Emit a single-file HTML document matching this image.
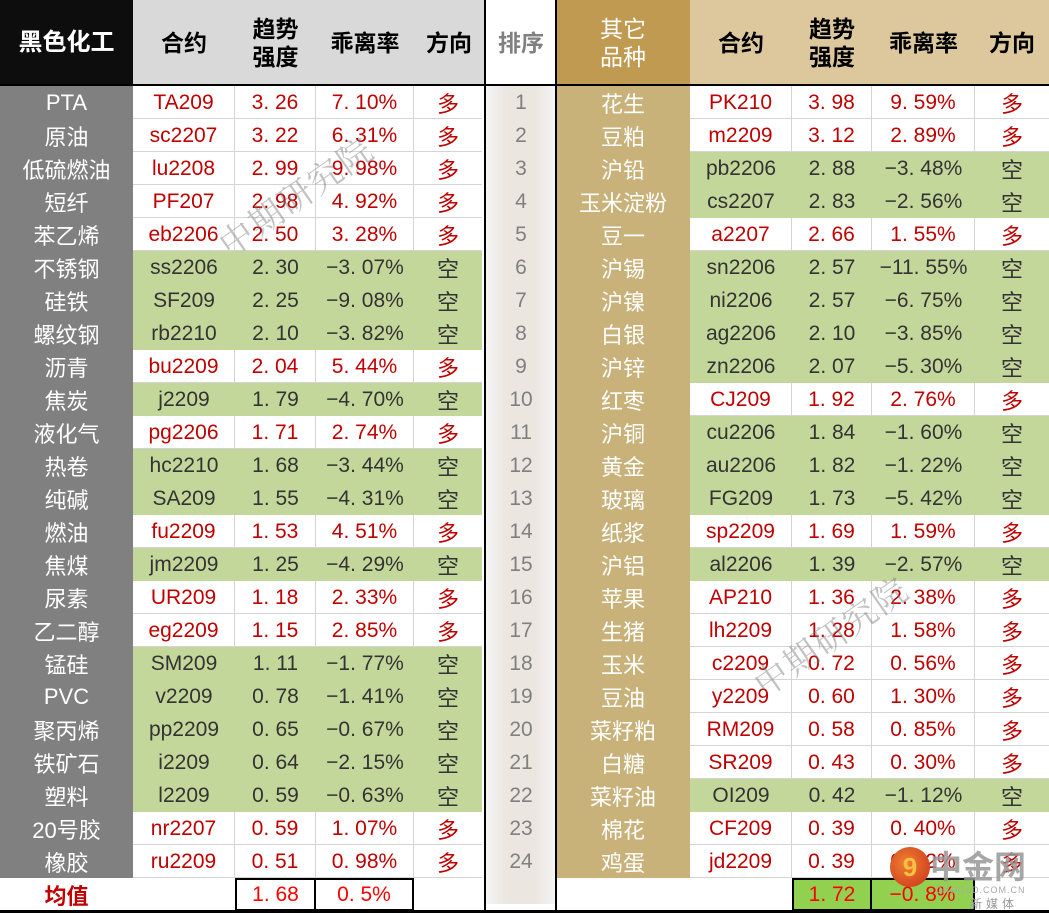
<!DOCTYPE html>
<html><head><meta charset="utf-8">
<style>
*{margin:0;padding:0;box-sizing:border-box}
body{width:1049px;height:913px;background:#fff;position:relative;overflow:hidden;font-family:"Liberation Sans","Noto Sans CJK SC",sans-serif}
.c{position:absolute;display:flex;align-items:center;justify-content:center;white-space:nowrap}
.m{font-family:"Liberation Sans","Noto Sans CJK SC",sans-serif;font-size:21px;font-weight:normal}
.z{font-size:22px}
.h{font-size:23px;font-weight:bold;line-height:28px;text-align:center;color:#000}
.line{position:absolute;background:#000}
.wm{position:absolute;color:rgba(120,120,120,0.45);font-size:34px;font-family:"Noto Serif CJK SC",serif;transform:rotate(-35deg);letter-spacing:2px}
</style></head><body>
<div id="root"></div>
<script>
const leftNames=["PTA","原油","低硫燃油","短纤","苯乙烯","不锈钢","硅铁","螺纹钢","沥青","焦炭","液化气","热卷","纯碱","燃油","焦煤","尿素","乙二醇","锰硅","PVC","聚丙烯","铁矿石","塑料","20号胶","橡胶"];
const leftCodes=["TA209","sc2207","lu2208","PF207","eb2206","ss2206","SF209","rb2210","bu2209","j2209","pg2206","hc2210","SA209","fu2209","jm2209","UR209","eg2209","SM209","v2209","pp2209","i2209","l2209","nr2207","ru2209"];
const leftStrength=["3.26","3.22","2.99","2.98","2.50","2.30","2.25","2.10","2.04","1.79","1.71","1.68","1.55","1.53","1.25","1.18","1.15","1.11","0.78","0.65","0.64","0.59","0.59","0.51"];
const leftDev=["7.10%","6.31%","9.98%","4.92%","3.28%","-3.07%","-9.08%","-3.82%","5.44%","-4.70%","2.74%","-3.44%","-4.31%","4.51%","-4.29%","2.33%","2.85%","-1.77%","-1.41%","-0.67%","-2.15%","-0.63%","1.07%","0.98%"];
const rightNames=["花生","豆粕","沪铅","玉米淀粉","豆一","沪锡","沪镍","白银","沪锌","红枣","沪铜","黄金","玻璃","纸浆","沪铝","苹果","生猪","玉米","豆油","菜籽粕","白糖","菜籽油","棉花","鸡蛋"];
const rightCodes=["PK210","m2209","pb2206","cs2207","a2207","sn2206","ni2206","ag2206","zn2206","CJ209","cu2206","au2206","FG209","sp2209","al2206","AP210","lh2209","c2209","y2209","RM209","SR209","OI209","CF209","jd2209"];
const rightStrength=["3.98","3.12","2.88","2.83","2.66","2.57","2.57","2.10","2.07","1.92","1.84","1.82","1.73","1.69","1.39","1.36","1.28","0.72","0.60","0.58","0.43","0.42","0.39","0.39"];
const rightDev=["9.59%","2.89%","-3.48%","-2.56%","1.55%","-11.55%","-6.75%","-3.85%","-5.30%","2.76%","-1.60%","-1.22%","-5.42%","1.59%","-2.57%","2.38%","1.58%","0.56%","1.30%","0.85%","0.30%","-1.12%","0.40%","0.12%"];
const avgLeft=["1.68","0.5%"];
const avgRight=["1.72","-0.8%"];

const root=document.getElementById('root');
const TOP=86,RH=33;
function box(x,y,w,h,txt,cls,style,name){
  const d=document.createElement('div');
  d.className='c '+(cls||'');
  d.style.cssText=`left:${x}px;top:${y}px;width:${w}px;height:${h}px;`+(style||'');
  if(txt!==null) d.innerHTML=txt;
  
  
  root.appendChild(d);return d;
}
function fmt(s){return s.replace('.','. ').replace('-','−');}
box(0,0,133,85,'黑色化工','h','background:#0d0d0d;color:#fff;font-size:24px','left-group-header');
box(133,0,351,85,null,'','background:#d9d9d9','left-header-bg');
box(133,0,102,85,'合约','h','','left-contract-header');
box(235,0,81,85,'趋势<br>强度','h','','left-strength-header');
box(316,0,98,85,'乖离率','h','','left-deviation-header');
box(414,0,70,85,'方向','h','','left-direction-header');
box(486,0,70,85,'排序','h','color:#808080','rank-header');
box(556,0,134,85,'其它<br>品种','h','background:#c09a50;color:#fff;font-weight:normal','right-group-header');
box(690,0,359,85,null,'','background:#dcc89c','right-header-bg');
box(690,0,102,85,'合约','h','','right-contract-header');
box(792,0,80,85,'趋势<br>强度','h','','right-strength-header');
box(872,0,103,85,'乖离率','h','','right-deviation-header');
box(975,0,74,85,'方向','h','','right-direction-header');
box(0,TOP,133,RH*24,null,'','background:#808080','left-name-column');
box(486,TOP,70,RH*24+26,null,'','background:linear-gradient(90deg,#f5f5f5,#ebe6e0 30%,#ebe6e0 70%,#f5f5f5)','rank-column');
box(556,TOP,134,RH*24,null,'','background:#c9b27a','right-name-column');
function side(names,codes,str,dev,x0,cols,pfx){
  for(let i=0;i<24;i++){
    const y=TOP+i*RH;
    const neg=dev[i].startsWith('-');
    const col=neg?'#333':'#c00000';
    box(x0,y,cols[0],RH,names[i],'z','color:#fff',pfx+'-name-'+(i+1));
    let x=x0+cols[0];
    const w=cols[1]+cols[2]+cols[3]+cols[4];
    box(x,y,w,RH,null,'',neg?'background:#c4d79b':'background:#fff;border-bottom:1px solid #d4d4d4',pfx+'-row-bg-'+(i+1));
    const vals=[codes[i],fmt(str[i]),fmt(dev[i]),neg?'空':'多'];
    for(let k=0;k<4;k++){
      box(x,y,cols[k+1],RH,vals[k],k==3?'z':'m','color:'+col+(!neg&&k<3?';border-right:1px solid #d4d4d4':''),pfx+'-cell-'+(i+1)+'-'+(k+1));
      x+=cols[k+1];
    }
  }
}
side(leftNames,leftCodes,leftStrength,leftDev,0,[133,102,81,98,68],'left');
side(rightNames,rightCodes,rightStrength,rightDev,556,[134,102,80,103,74],'right');
for(let i=0;i<24;i++) box(486,TOP+i*RH,70,RH,String(i+1),'','font-size:21px;color:#808080','rank-'+(i+1));
const FY=TOP+RH*24;
box(0,FY,133,33,'均值','z','color:#c00000;font-weight:bold','average-label');
box(235,FY,81,33,fmt(avgLeft[0]),'m','color:#f00;border:2px solid #000','left-avg-strength');
box(314,FY,100,33,fmt(avgLeft[1]),'m','color:#f00;border:2px solid #000','left-avg-deviation');
box(792,FY,80,33,fmt(avgRight[0]),'m','color:#f00;background:#92d050;border:2px solid #000','right-avg-strength');
box(870,FY,105,33,fmt(avgRight[1]),'m','color:#f00;background:#92d050;border:2px solid #000','right-avg-deviation');
[[0,84,1049,2],[484,0,2,913],[555,0,2,913],[0,910,1049,3]].forEach((l,i)=>{
  const d=document.createElement('div');d.className='line';
  d.style.cssText=`left:${l[0]}px;top:${l[1]}px;width:${l[2]}px;height:${l[3]}px`;
  
  
  root.appendChild(d);
});
</script>
<div class="wm" style="left:205px;top:170px">中期研究院</div>
<div class="wm" style="left:740px;top:610px">中期研究院</div>
<div style="position:absolute;left:890px;top:845px;width:160px;height:66px">
  <div style="position:absolute;left:0;top:2px;width:40px;height:40px;border-radius:50%;background:radial-gradient(circle at 40% 40%,#f08030,#c8301a);color:#f7c040;font-size:26px;font-weight:bold;display:flex;align-items:center;justify-content:center">9</div>
  <div style="position:absolute;left:40px;top:0;font-size:32px;font-weight:bold;color:rgba(150,150,150,0.85);font-family:'Noto Sans CJK SC',sans-serif;line-height:40px">中金网</div>
  <div style="position:absolute;left:45px;top:40px;font-size:9px;color:#aaa;letter-spacing:1px">CNGOLD.COM.CN</div>
  <div style="position:absolute;left:80px;top:50px;font-size:12px;color:#999;letter-spacing:4px">新媒体</div>
</div>
</body></html>
